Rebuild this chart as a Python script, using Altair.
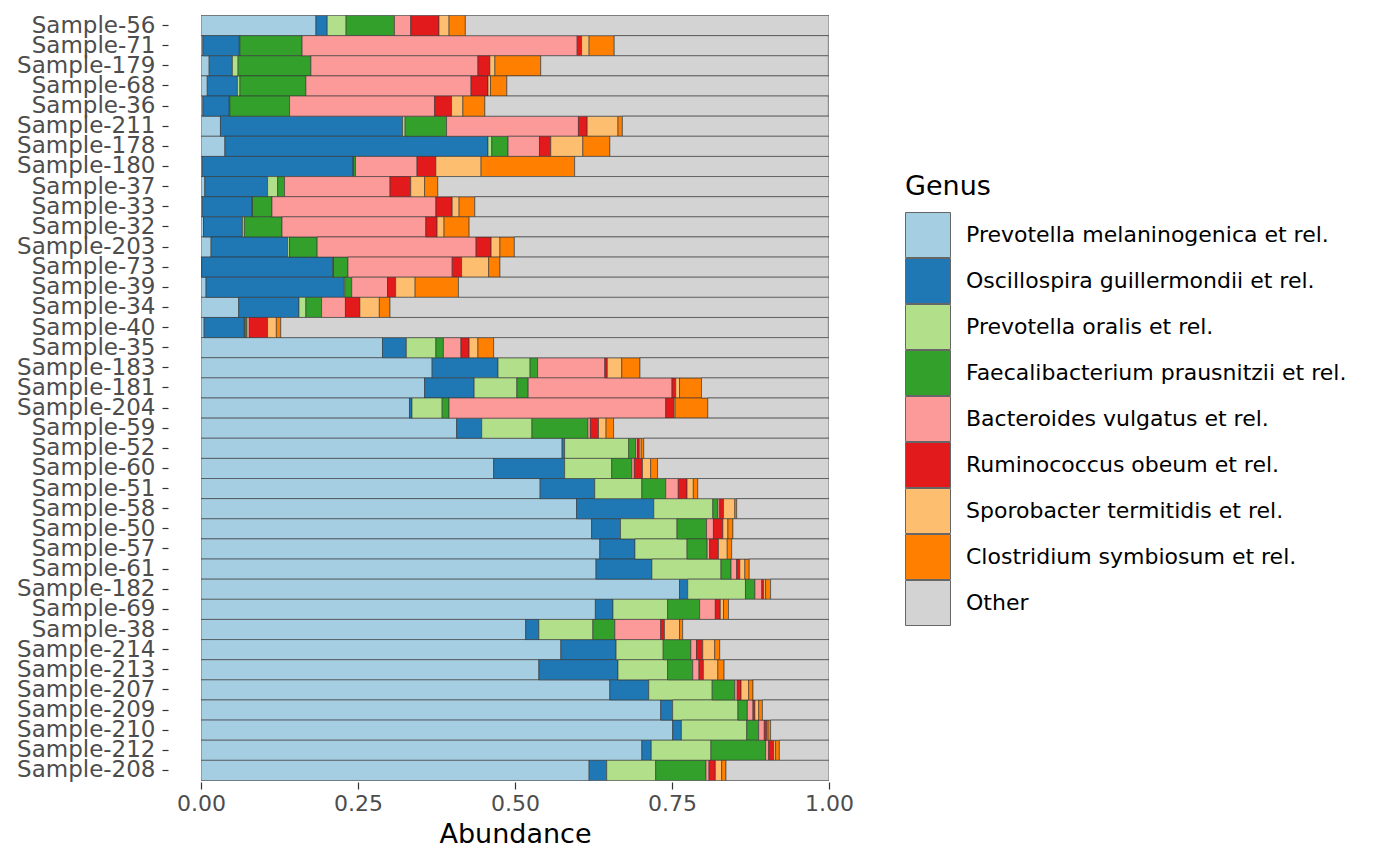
import altair as alt
import pandas as pd

samples = ["Sample-56","Sample-71","Sample-179","Sample-68","Sample-36","Sample-211","Sample-178","Sample-180",
           "Sample-37","Sample-33","Sample-32","Sample-203","Sample-73","Sample-39","Sample-34","Sample-40",
           "Sample-35","Sample-183","Sample-181","Sample-204","Sample-59","Sample-52","Sample-60","Sample-51",
           "Sample-58","Sample-50","Sample-57","Sample-61","Sample-182","Sample-69","Sample-38","Sample-214",
           "Sample-213","Sample-207","Sample-209","Sample-210","Sample-212","Sample-208"]

genera = ["Prevotella melaninogenica et rel.", "Oscillospira guillermondii et rel.", "Prevotella oralis et rel.",
          "Faecalibacterium prausnitzii et rel.", "Bacteroides vulgatus et rel.", "Ruminococcus obeum et rel.",
          "Sporobacter termitidis et rel.", "Clostridium symbiosum et rel.", "Other"]

colors = ["#A6CEE3", "#1F78B4", "#B2DF8A", "#33A02C", "#FB9A99", "#E31A1C", "#FDBF6F", "#FF7F00", "#D3D3D3"]

prevotella_mel = [0.183,0.003,0.013,0.010,0.003,0.031,0.038,0.002,0.006,0.002,0.004,0.016,0.001,0.008,0.060,0.005,
                  0.289,0.368,0.356,0.332,0.407,0.575,0.466,0.540,0.598,0.622,0.635,0.629,0.762,0.628,0.517,0.573,
                  0.538,0.651,0.732,0.751,0.702,0.618]
oscillospira = [0.018,0.058,0.037,0.048,0.042,0.290,0.419,0.240,0.100,0.079,0.062,0.122,0.209,0.219,0.096,0.064,
                0.038,0.105,0.079,0.004,0.040,0.004,0.113,0.087,0.123,0.046,0.056,0.089,0.013,0.028,0.021,0.088,
                0.126,0.062,0.019,0.014,0.015,0.028]
prevotella_oral = [0.030,0.001,0.009,0.004,0.001,0.004,0.006,0.001,0.016,0.001,0.003,0.003,0.001,0.002,0.011,0.001,
                   0.047,0.051,0.068,0.048,0.080,0.102,0.075,0.075,0.094,0.090,0.083,0.110,0.092,0.087,0.086,0.075,
                   0.079,0.101,0.104,0.104,0.095,0.078]
faecalibacterium = [0.077,0.099,0.116,0.105,0.095,0.066,0.026,0.003,0.011,0.031,0.060,0.044,0.023,0.011,0.025,0.003,
                    0.012,0.012,0.018,0.011,0.089,0.011,0.032,0.038,0.008,0.047,0.032,0.016,0.015,0.051,0.035,0.044,
                    0.040,0.036,0.015,0.019,0.087,0.080]
bacteroides = [0.026,0.438,0.266,0.263,0.231,0.210,0.050,0.098,0.168,0.261,0.229,0.253,0.166,0.057,0.038,0.004,
               0.028,0.107,0.229,0.345,0.004,0.003,0.004,0.020,0.003,0.011,0.004,0.009,0.011,0.025,0.073,0.009,
               0.010,0.004,0.009,0.009,0.005,0.005]
ruminococcus = [0.045,0.007,0.019,0.027,0.027,0.014,0.018,0.030,0.033,0.026,0.018,0.024,0.015,0.013,0.023,0.029,
                0.013,0.004,0.006,0.013,0.013,0.003,0.013,0.014,0.006,0.015,0.014,0.005,0.003,0.008,0.006,0.010,
                0.007,0.006,0.003,0.004,0.008,0.010]
sporobacter = [0.016,0.012,0.008,0.004,0.018,0.049,0.051,0.072,0.022,0.011,0.011,0.014,0.043,0.031,0.031,0.014,
               0.014,0.023,0.006,0.002,0.012,0.003,0.013,0.010,0.018,0.008,0.014,0.008,0.003,0.005,0.024,0.019,
               0.023,0.012,0.006,0.002,0.003,0.010]
clostridium = [0.026,0.040,0.073,0.026,0.035,0.007,0.043,0.149,0.021,0.025,0.040,0.023,0.018,0.069,0.017,0.007,
               0.025,0.029,0.035,0.052,0.012,0.004,0.011,0.007,0.003,0.008,0.007,0.007,0.008,0.008,0.005,0.008,
               0.010,0.007,0.006,0.004,0.006,0.007]
other = [0.579,0.341,0.458,0.513,0.547,0.329,0.349,0.405,0.623,0.564,0.573,0.501,0.524,0.590,0.699,0.872,
         0.534,0.301,0.203,0.193,0.343,0.295,0.273,0.209,0.147,0.153,0.155,0.127,0.093,0.160,0.233,0.174,
         0.167,0.121,0.106,0.093,0.079,0.164]

series = [prevotella_mel, oscillospira, prevotella_oral, faecalibacterium, bacteroides,
          ruminococcus, sporobacter, clostridium, other]

rows = []
for gi, (g, vals) in enumerate(zip(genera, series)):
    for s, v in zip(samples, vals):
        rows.append({"Sample": s, "Genus": g, "Abundance": v, "gidx": gi})
df = pd.DataFrame(rows)

chart = alt.Chart(df).mark_bar(stroke="#333333", strokeWidth=0.6, clip=True).encode(
    x=alt.X("Abundance:Q", stack="zero",
            scale=alt.Scale(domain=[0, 1], nice=False, zero=True),
            axis=alt.Axis(values=[0, 0.25, 0.5, 0.75, 1.0], format=".2f", title="Abundance",
                          grid=False, domain=False, tickSize=7, tickColor="#333333", tickWidth=1.2,
                          labelFontSize=22, labelColor="#4d4d4d", labelPadding=4, labelFlush=False,
                          titleFontSize=27, titleColor="#000000", titleFontWeight="normal",
                          titlePadding=7)),
    y=alt.Y("Sample:N", sort=samples,
            scale=alt.Scale(paddingInner=0, paddingOuter=0.075),
            axis=alt.Axis(title=None, grid=False, domain=False, offset=33, tickSize=6,
                          tickColor="#333333", tickWidth=1.2, labelFontSize=23, labelColor="#4d4d4d",
                          labelPadding=7)),
    color=alt.Color("Genus:N", sort=genera,
                    scale=alt.Scale(domain=genera, range=colors),
                    legend=alt.Legend(title="Genus", orient="none", legendX=704, legendY=160,
                                      titleFontSize=27, titleFontWeight="normal", titleColor="#000000",
                                      titlePadding=11, labelFontSize=22, labelColor="#000000",
                                      labelLimit=600, symbolType="square", symbolSize=2025,
                                      symbolStrokeColor="#666666", symbolStrokeWidth=1,
                                      symbolOpacity=1, rowPadding=0, clipHeight=46, labelOffset=15)),
    order=alt.Order("gidx:Q", sort="ascending"),
    tooltip=["Sample", "Genus", "Abundance"]
).properties(
    width=628, height=768,
    autosize=alt.AutoSizeParams(type="none"),
    padding={"left": 193, "top": 6, "right": 560, "bottom": 70}
).configure(
    font="DejaVu Sans"
).configure_view(
    strokeWidth=0
)

chart.save("out.html", embed_options={"renderer": "svg", "actions": False})
